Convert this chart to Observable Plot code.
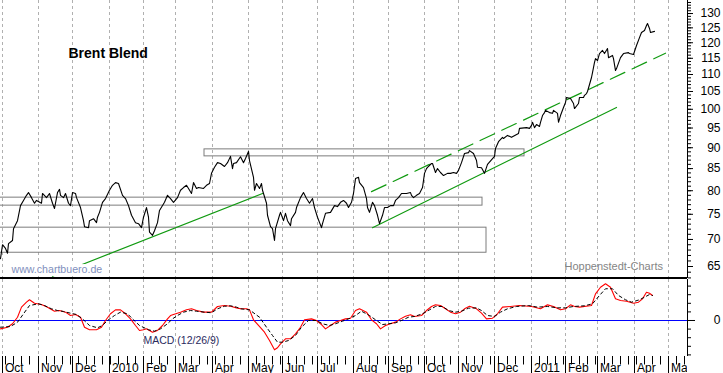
<!DOCTYPE html>
<html><head><meta charset="utf-8">
<script src="https://cdn.jsdelivr.net/npm/d3@7"></script>
<script src="https://cdn.jsdelivr.net/npm/@observablehq/plot@0.6"></script>
<style>
html,body{margin:0;padding:0;background:#fff;}
#chart{width:723px;height:373px;overflow:hidden;}
#chart svg{display:block;}
</style></head><body><div id="chart"></div>
<script>
// ---- data (x = trading session number counted from 1 Oct 2009) ----
const priceSession = [-1,0,2,3,4,6,7,9,11,13,15,16,18,20,21,24,25,27,29,31,32,34,35,36,38,39,41,42,43,45,46,48,50,51,53,54,56,58,59,60,62,64,66,68,70,72,74,76,78,80,82,84,86,87,89,90,91,93,94,96,97,100,102,104,106,108,110,112,114,115,117,118,120,121,124,126,128,129,131,133,135,137,139,141,142,143,145,147,149,150,152,153,155,156,157,159,160,161,163,164,166,167,168,169,171,172,174,175,176,178,179,181,182,184,186,188,190,192,193,195,197,198,200,203,205,207,209,211,213,214,216,217,218,220,221,223,225,226,227,229,230,232,233,235,236,238,240,242,243,245,247,250,252,253,254,256,258,260,261,262,263,265,266,268,269,271,273,275,277,279,281,282,284,286,288,289,291,293,294,296,298,300,304,305,307,309,310,312,315,319,320,324,326,327,328,329,330,332,333,334,335,336,338,340,341,343,344,345,347,348,349,351,353,354,356,357,359,360,361,362,364,365,366,367,368,369,371,372,374,375,377,378,379,380,382,384,387,388,390,392,394,395,397,398,399,400,401,403];
const priceValue = [66.4,69.0,68.3,67.4,69.2,69.8,72.1,73.7,76.8,77.9,79.0,79.6,78.5,77.3,77.9,77.3,79.4,78.5,79.4,77.3,76.2,79.6,80.3,79.0,78.5,79.4,77.3,76.8,79.6,79.4,78.5,76.4,73.7,72.5,72.3,73.7,74.1,73.3,74.4,75.4,77.5,78.3,80.1,81.2,81.8,81.6,79.0,78.3,76.8,74.8,73.3,73.1,72.3,74.4,76.4,74.4,71.4,70.8,71.7,73.3,75.8,77.5,79.0,78.3,77.5,78.5,80.1,80.7,81.2,80.5,79.4,81.8,80.5,80.7,80.5,81.2,81.6,83.9,85.3,86.4,86.2,85.5,86.4,87.9,85.0,86.2,86.4,87.8,86.4,87.4,89.1,86.9,83.0,80.1,81.6,80.5,81.6,80.1,77.3,74.8,72.5,72.1,69.8,72.1,74.8,75.4,73.7,75.2,73.7,72.7,74.1,75.4,76.4,78.5,79.6,78.3,77.3,78.3,76.4,74.4,72.3,73.1,75.2,75.4,76.8,76.6,77.5,77.9,77.3,76.4,77.5,79.4,82.7,83.0,81.8,80.7,78.3,76.4,75.4,77.5,76.8,74.8,73.1,74.8,76.4,76.4,76.8,76.8,77.9,78.5,79.4,79.4,79.6,79.0,78.5,79.0,79.4,80.7,83.9,85.0,85.3,86.2,86.2,84.1,85.0,84.1,83.4,83.9,83.9,84.1,83.9,84.6,86.4,88.6,88.8,89.3,88.6,86.9,85.3,85.2,83.9,86.0,87.9,89.8,91.5,92.6,92.3,93.1,92.6,93.6,94.9,95.1,94.9,95.7,96.5,95.1,95.9,95.4,96.5,98.3,99.1,99.7,99.1,98.9,99.7,98.9,96.5,98.3,100.5,101.9,103.3,103.0,101.6,100.2,101.6,103.3,103.3,103.9,104.4,105.0,109.1,110.6,113.7,114.9,114.3,116.5,117.5,116.5,118.1,115.2,115.9,114.9,111.2,111.8,115.2,116.5,116.8,116.5,116.2,119.1,121.7,123.4,124.1,125.8,126.5,124.8,123.4,123.8];

const macdSession = [-1,3,6,9,12,15,17,20,24,28,32,35,39,42,45,48,51,54,58,61,64,67,70,73,76,79,82,85,87,89,93,96,99,102,104,106,110,114,117,120,124,129,133,137,141,145,147,151,153,155,158,162,165,168,170,172,175,178,181,184,187,191,194,197,200,203,206,209,212,215,218,221,225,228,231,234,237,240,243,246,249,252,255,259,262,265,268,271,274,277,280,283,286,289,293,296,299,303,306,309,314,320,327,333,337,341,345,348,351,354,357,364,367,370,373,376,379,382,386,390,393,396,398,400,402];
const macdValue = [-0.97,-0.78,-0.38,0.38,1.55,2.13,2.41,2.01,1.86,1.55,1.08,1.16,0.97,0.58,0.70,0.38,-0.78,-1.08,-1.08,-0.78,0,0.78,1.24,1.24,0.78,0.19,-0.58,-1.16,-1.08,-0.97,-1.36,-1.16,-0.58,0.19,0.58,0.70,0.97,1.24,1.36,1.16,0.97,0.97,1.63,1.74,1.66,1.47,1.36,1.36,1.24,0.08,-0.58,-1.36,-2.33,-3.41,-3.17,-2.71,-2.13,-2.13,-1.55,-0.78,0.08,0.19,0,-0.47,-0.97,-0.58,-0.19,0,0.19,0.27,1.16,1.36,0.97,0.08,-0.38,-0.97,-0.58,-0.38,-0.19,0.19,0.50,0.66,0.47,0.58,1.16,1.63,1.82,1.74,1.36,0.97,0.78,0.97,1.36,1.66,1.36,0.85,0.19,0.27,0.78,1.55,1.63,1.74,1.63,1.36,1.82,1.63,1.24,1.36,1.82,1.63,1.55,1.74,3.10,3.87,4.27,3.87,2.52,2.33,2.24,2.01,2.13,2.52,3.29,3.17,2.91];

const signalSession = [-1,5,9,13,17,22,26,30,34,38,42,46,50,54,59,62,65,69,73,77,81,85,90,94,98,102,105,108,112,116,120,125,129,133,137,141,145,147,153,159,163,167,170,173,177,181,185,189,194,198,202,206,210,214,218,222,227,231,235,239,243,247,251,255,260,264,268,272,276,280,284,288,293,296,300,304,308,312,318,325,331,337,343,348,353,360,365,369,373,377,381,385,389,394,397,400,402];
const signalValue = [-0.78,-0.70,-0.20,0.78,1.74,1.94,1.74,1.36,1.16,1.05,0.85,0.70,0.08,-0.58,-0.85,-0.58,0,0.58,0.97,0.78,0.08,-0.58,-1.08,-1.24,-0.97,-0.38,0.19,0.58,0.97,1.16,1.08,0.97,0.90,1.36,1.66,1.71,1.55,1.36,1.24,0.38,-0.78,-1.74,-2.52,-2.52,-2.33,-1.74,-0.78,0,0,-0.38,-0.58,-0.38,-0.08,0.19,0.58,1.08,0.58,0,-0.47,-0.38,-0.27,0,0.38,0.47,0.78,1.24,1.63,1.63,1.16,0.97,1.08,1.43,1.47,1.16,0.58,0.47,0.97,1.36,1.63,1.74,1.55,1.63,1.47,1.47,1.63,1.71,1.94,2.91,3.69,3.69,2.91,2.41,2.13,2.41,2.71,3.02,2.91];

const monthStarts = ["2009-10-01","2009-11-01","2009-12-01","2010-01-01","2010-02-01","2010-03-01","2010-04-01","2010-05-01","2010-06-01","2010-07-01","2010-08-01","2010-09-01","2010-10-01","2010-11-01","2010-12-01","2011-01-01","2011-02-01","2011-03-01","2011-04-01","2011-05-01"];
const monthLabels = ["Oct","Nov","Dec","2010","Feb","Mar","Apr","May","Jun","Jul","Aug","Sep","Oct","Nov","Dec","2011","Feb","Mar","Apr","May"];
const priceTicks = [65,70,75,80,85,90,95,100,105,110,115,120,125,130];
const macdTicks = [-4,-3,-2,-1,0,1,2,3,4];

// horizontal zones (session range, price range)
const zoneStart = [-3, -3, 125];
const zoneEnd   = [297, 299, 323];
const zoneLow   = [76.8, 67.5, 87.9];
const zoneHigh  = [78.5, 72.3, 89.6];

// trend lines
const trendName  = ["support 1", "channel low", "channel high"];
const trendS1 = [31, 229, 228];
const trendV1 = [63.3, 72.3, 79.8];
const trendS2 = [161, 380, 410];
const trendV2 = [79.4, 100.5, 116.6];

// ---- helpers ----
const t0 = new Date(Date.UTC(2009, 9, 1));
const isWeekday = d => d.getUTCDay() % 6 !== 0;
const sessionOf = d => d3.utcDay.range(t0, d).filter(isWeekday).length;
const parseDay = s => new Date(s + "T00:00:00Z");
const monthSessions = monthStarts.map(s => sessionOf(parseDay(s)));
const weekSessions = d3.utcMonday.range(new Date(Date.UTC(2009,9,2)), new Date(Date.UTC(2011,4,20))).map(sessionOf);

const priceData = priceSession.map((s, i) => ({s, v: priceValue[i]}));
const macdData = macdSession.map((s, i) => ({s, v: macdValue[i]}));
const signalData = signalSession.map((s, i) => ({s, v: signalValue[i]}));
const zones = zoneStart.map((s, i) => ({x1: s, x2: zoneEnd[i], y1: zoneLow[i], y2: zoneHigh[i]}));
const trends = trendName.flatMap((n, i) => [{n, s: trendS1[i], v: trendV1[i]}, {n, s: trendS2[i], v: trendV2[i]}]);

const FONT = "'Liberation Sans', Arial, Helvetica, sans-serif";
const xDomain = [-1.24, 423.6];
const priceDomain = [62.9, 134.73];
const macdDomain = [-4.186, 4.767];
const GRID = "#b0b0b0";
const GREEN = "#109a10";

const common = {width: 723, marginLeft: 0, marginRight: 36,
  style: {fontFamily: FONT, fontSize: "12px", background: "white", color: "black", overflow: "visible"}};

const pricePlot = Plot.plot({
  ...common, height: 279, marginTop: 0, marginBottom: 1,
  x: {domain: xDomain, axis: null, round: true},
  y: {type: "log", domain: priceDomain, axis: null},
  marks: [
    Plot.ruleX(monthSessions, {stroke: GRID, strokeDasharray: "3,3"}),
    Plot.rect(zones, {x1: "x1", x2: "x2", y1: "y1", y2: "y2", fill: "none", stroke: "#7c7c7c", clip: true}),
    Plot.line(trends.filter(d => d.n !== "channel high"), {x: "s", y: "v", z: "n", stroke: GREEN, strokeWidth: 1.2}),
    Plot.line(trends.filter(d => d.n === "channel high"), {x: "s", y: "v", stroke: GREEN, strokeWidth: 1.2, strokeDasharray: "16,8"}),
    Plot.line(priceData, {x: "s", y: "v", stroke: "black", strokeWidth: 1.1}),
    Plot.text(["Brent Blend"], {frameAnchor: "top-left", dx: 68, dy: 57, lineAnchor: "bottom", textAnchor: "start", fontWeight: "bold", fontSize: 14, fill: "black"}),
    Plot.text(["www.chartbuero.de"], {frameAnchor: "bottom-left", dx: 11, dy: -5.5, lineAnchor: "bottom", textAnchor: "start", fontSize: 10.6, fill: "#7f8fbd", stroke: "white", strokeWidth: 6, paintOrder: "stroke"}),
    Plot.text(["Hoppenstedt-Charts"], {frameAnchor: "bottom-left", dx: 564, dy: -9, lineAnchor: "bottom", textAnchor: "start", fontSize: 11, fill: "#858585"}),
    Plot.ruleY([priceDomain[0]], {stroke: "black", strokeWidth: 2, dy: -0.5}),
    Plot.ruleX([xDomain[1]], {stroke: "black"}),
    Plot.axisY({anchor: "right", label: null, ticks: d3.range(63, 135, 1), tickSize: 3, tickFormat: () => "", stroke: "black"}),
    Plot.axisY({anchor: "right", label: null, ticks: priceTicks, tickSize: 5, tickPadding: 28, textAnchor: "end", fontSize: 12, fill: "black", stroke: "black"})
  ]
});

const macdPlot = Plot.plot({
  ...common, height: 77, marginTop: 0, marginBottom: 0,
  x: {domain: xDomain, axis: null, round: true},
  y: {domain: macdDomain, axis: null},
  marks: [
    Plot.ruleX(monthSessions, {stroke: GRID, strokeDasharray: "3,3"}),
    Plot.ruleY([0], {stroke: "#0000ff", strokeWidth: 1.2}),
    Plot.line(macdData, {x: "s", y: "v", stroke: "#ff0000", strokeWidth: 1.1}),
    Plot.line(signalData, {x: "s", y: "v", stroke: "black", strokeWidth: 1, strokeDasharray: "3,3"}),
    Plot.text(["MACD (12/26/9)"], {frameAnchor: "top-left", dx: 143, dy: 64, lineAnchor: "bottom", textAnchor: "start", fontSize: 10.5, fill: "#2b2b5e"}),
    Plot.ruleX([xDomain[1]], {stroke: "black"}),
    Plot.axisY({anchor: "right", label: null, ticks: macdTicks.filter(d => d !== 0), tickSize: 3, tickFormat: () => "", stroke: "black"}),
    Plot.axisY({anchor: "right", label: null, ticks: [0], tickSize: 7, tickPadding: 26, textAnchor: "end", fontSize: 12, fill: "black", stroke: "black"})
  ]
});

const axisPlot = Plot.plot({
  ...common, height: 17, marginTop: 0, marginBottom: 0,
  x: {domain: xDomain, axis: null, round: true},
  y: {domain: [0, 1], reverse: true, axis: null},
  marks: [
    Plot.ruleX(weekSessions, {y1: 0, y2: 0.5, stroke: "black"}),
    Plot.ruleX(monthSessions, {y1: 0, y2: 1, stroke: "black"}),
    Plot.text(monthSessions, {x: d => d, text: (d, i) => monthLabels[i], frameAnchor: "bottom", lineAnchor: "bottom", dy: -2, dx: 2.5, textAnchor: "start", fontSize: 12, fill: "black", clip: true})
  ]
});

document.getElementById("chart").append(pricePlot, macdPlot, axisPlot);
</script>
</body></html>
